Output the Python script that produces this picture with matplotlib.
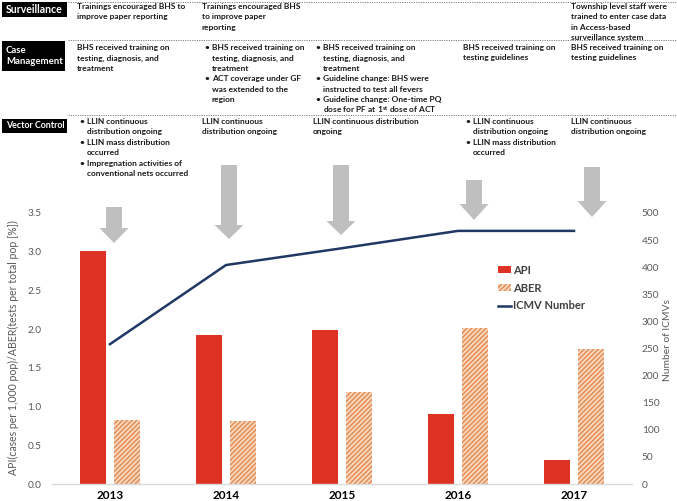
import matplotlib
matplotlib.use("Agg")
import matplotlib.pyplot as plt
from matplotlib.patches import Polygon, Rectangle, Patch
from matplotlib.lines import Line2D
import numpy as np

plt.rcParams['font.family'] = ['Lato', 'DejaVu Sans']
plt.rcParams['mathtext.fontset'] = 'custom'
plt.rcParams['mathtext.rm'] = 'Lato'
plt.rcParams['mathtext.bf'] = 'Lato:bold'
plt.rcParams['mathtext.it'] = 'Lato:italic'
plt.rcParams['hatch.linewidth'] = 1.0

# ---------------- data ----------------
years = ["2013", "2014", "2015", "2016", "2017"]
api = [3.01, 1.92, 1.99, 0.90, 0.31]
aber = [0.83, 0.81, 1.19, 2.01, 1.74]
icmv = [258, 404, 435, 467, 467]

row_labels = ["Surveillance", "Case\nManagement", "Vector Control"]

# each cell: list of (is_bullet, [lines])
surveillance = [
    [(False, ["Trainings encouraged BHS to", "improve paper reporting"])],
    [(False, ["Trainings encouraged BHS", "to improve paper", "reporting"])],
    [],
    [],
    [(False, ["Township level staff were", "trained to enter case data",
              "in Access-based", "surveillance system"])],
]
case_mgmt = [
    [(False, ["BHS received training on", "testing, diagnosis, and", "treatment"])],
    [(True, ["BHS received training on", "testing, diagnosis, and", "treatment"]),
     (True, ["ACT coverage under GF", "was extended to the", "region"])],
    [(True, ["BHS received training on", "testing, diagnosis, and", "treatment"]),
     (True, ["Guideline change: BHS were", "instructed to test all fevers"]),
     (True, ["Guideline change: One-time PQ",
             r"dose for PF at 1$^{\mathbf{st}}$ dose of ACT"])],
    [(False, ["BHS received training on", "testing guidelines"])],
    [(False, ["BHS received training on", "testing guidelines"])],
]
vector = [
    [(True, ["LLIN continuous", "distribution ongoing"]),
     (True, ["LLIN mass distribution", "occurred"]),
     (True, ["Impregnation activities of", "conventional nets occurred"])],
    [(False, ["LLIN continuous", "distribution ongoing"])],
    [(False, ["LLIN continuous distribution", "ongoing"])],
    [(True, ["LLIN continuous", "distribution ongoing"]),
     (True, ["LLIN mass distribution", "occurred"])],
    [(False, ["LLIN continuous", "distribution ongoing"])],
]

# ---------------- figure ----------------
W, H = 677, 501
fig = plt.figure(figsize=(W / 100, H / 100), dpi=100)

def fx(px):
    return px / W

def fy(py):
    return 1 - py / H

ax = fig.add_axes([fx(52), fy(484), fx(632) - fx(52), fy(213) - fy(484)])
ax2 = ax.twinx()

x = np.arange(len(years))
bw = 0.225
off = 0.145
red = '#DE3324'
orange = '#E5884C'
aber_face = '#F8D8C0'
navy = '#1F3864'
hatch = '///////'

ax.bar(x - off, api, bw, color=red, label='API', zorder=2)
ax.bar(x + off, aber, bw, facecolor=aber_face, edgecolor=orange, hatch=hatch,
       linewidth=0, label='ABER', zorder=2)
ax2.plot(x, icmv, color=navy, lw=1.8, label='ICMV Number', zorder=3)

ax.set_xlim(-0.5, len(years) - 0.5)
ax.set_ylim(0, 3.5)
ax2.set_ylim(0, 500)
ax.set_yticks(np.arange(0, 3.51, 0.5))
ax.set_yticklabels([f"{v:.1f}" for v in np.arange(0, 3.51, 0.5)])
ax2.set_yticks(np.arange(0, 501, 50))

ax.set_xticks(x)
ax.set_xticklabels(years, fontsize=8.5, fontweight='bold', color='black')
for a in (ax, ax2):
    for s in a.spines.values():
        s.set_visible(False)
ax.spines['bottom'].set_visible(True)
ax.spines['bottom'].set_color('#D9D9D9')
ax.spines['bottom'].set_linewidth(1.0)
ax.tick_params(axis='x', length=0, pad=4)
ax.tick_params(axis='y', length=0, pad=7.5, labelsize=7.3, labelcolor='#595959')
ax2.tick_params(axis='y', length=0, pad=7, labelsize=7.3, labelcolor='#595959')

fig.text(fx(13), fy(348), "API(cases per 1,000 pop)/ABER(tests per total pop [%])",
         rotation=90, ha='center', va='center', fontsize=7.6, color='#595959')
fig.text(fx(668), fy(340), "Number of ICMVs", rotation=90, ha='center', va='center',
         fontsize=7.4, color='#595959')

handles = [Patch(facecolor=red, edgecolor='none'),
           Patch(facecolor=aber_face, edgecolor=orange, hatch=hatch, linewidth=0),
           Line2D([0], [0], color=navy, lw=1.8)]
leg = ax2.legend(handles, ['API', 'ABER', 'ICMV Number'], loc='center left',
                 bbox_to_anchor=(fx(498), fy(288)), bbox_transform=fig.transFigure,
                 frameon=False, borderpad=0, borderaxespad=0, handlelength=1.2,
                 handleheight=0.6, handletextpad=0.15, labelspacing=0.62,
                 prop={'size': 8.0, 'weight': 'bold'})
for t in leg.get_texts():
    t.set_color('#404040')

# ---------------- arrows ----------------
arrows = [(114, 207, 228, 243), (229, 165, 225, 239), (341, 165, 221, 235),
          (474, 180, 204, 220), (592, 167, 201, 217)]
for cx, top, hb, tip in arrows:
    sw, hw = 8, 14.5
    pts = [(cx - sw, top), (cx + sw, top), (cx + sw, hb), (cx + hw, hb), (cx, tip),
           (cx - hw, hb), (cx - sw, hb)]
    fig.patches.append(Polygon([(fx(a), fy(b)) for a, b in pts], closed=True,
                               transform=fig.transFigure, facecolor='#BFBFBF',
                               edgecolor='none'))

# ---------------- top table ----------------
renderer = fig.canvas.get_renderer()
boxes = [(2, 2, 67, 17), (2, 41, 65, 71), (2, 119, 67, 133)]
for (x0, y0, x1, y1), lab in zip(boxes, row_labels):
    fig.patches.append(Rectangle((fx(x0), fy(y1)), fx(x1) - fx(x0), fy(y0) - fy(y1),
                                 transform=fig.transFigure, facecolor='black',
                                 edgecolor='none'))
    t = fig.text(fx(x0 + 4), fy((y0 + y1) / 2), lab, ha='left', va='center', color='white',
                 fontsize=7.6, fontweight='bold', linespacing=1.15)
    size = 7.6
    while t.get_window_extent(renderer).width > (x1 - x0 - 6) and size > 5:
        size -= 0.1
        t.set_fontsize(size)

for yl in (2, 40, 115):
    fig.add_artist(Line2D([fx(68), fx(677)], [fy(yl), fy(yl)], transform=fig.transFigure,
                          color='#7F7F7F', lw=0.7, ls=(0, (1.2, 1.2))))

col_x = [77, 202, 313, 463, 571]
row_y = [6.5, 47.5, 121.5]
lsp = 10.45
for rows, y0 in zip([surveillance, case_mgmt, vector], row_y):
    for cx, cell in zip(col_x, rows):
        y = y0
        for bullet, lines in cell:
            for i, line in enumerate(lines):
                if bullet:
                    if i == 0:
                        fig.text(fx(cx + 2), fy(y), "•", ha='left', va='center',
                                 fontsize=6.0, fontweight='bold', color='#1A1A1A')
                    fig.text(fx(cx + 10), fy(y), line, ha='left', va='center',
                             fontsize=6.0, fontweight='bold', color='#1A1A1A')
                else:
                    fig.text(fx(cx), fy(y), line, ha='left', va='center',
                             fontsize=6.0, fontweight='bold', color='#1A1A1A')
                y += lsp

fig.savefig("out.png", dpi=100)
